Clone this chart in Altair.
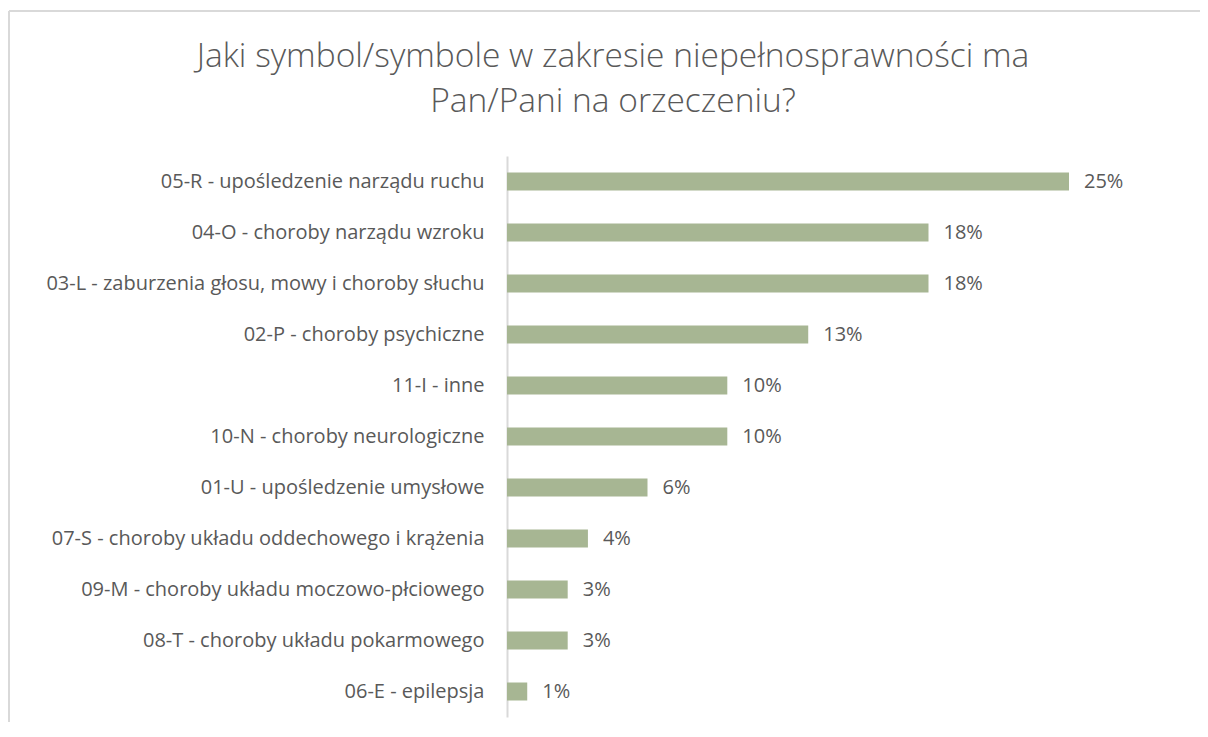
import altair as alt
import pandas as pd

categories = [
    "05-R - upośledzenie narządu ruchu",
    "04-O - choroby narządu wzroku",
    "03-L - zaburzenia głosu, mowy i choroby słuchu",
    "02-P - choroby psychiczne",
    "11-I - inne",
    "10-N - choroby neurologiczne",
    "01-U - upośledzenie umysłowe",
    "07-S - choroby układu oddechowego i krążenia",
    "09-M - choroby układu moczowo-płciowego",
    "08-T - choroby układu pokarmowego",
    "06-E - epilepsja",
]
values = [25.0, 18.75, 18.75, 13.4, 9.8, 9.8, 6.25, 3.6, 2.7, 2.7, 0.9]
labels = ["25%", "18%", "18%", "13%", "10%", "10%", "6%", "4%", "3%", "3%", "1%"]

title_line1 = "Jaki symbol/symbole w zakresie niepełnosprawności ma"
title_line2 = "Pan/Pani na orzeczeniu?"

df = pd.DataFrame({"cat": categories, "val": values, "lab": labels})
one = pd.DataFrame({"a": [0]})

FONT = "Open Sans"
TXT = "#595959"

y_enc = alt.Y(
    "cat:N",
    sort=categories,
    scale=alt.Scale(paddingInner=0.647, paddingOuter=0.3235),
    axis=alt.Axis(
        title=None,
        ticks=False,
        grid=False,
        domainColor="#d9d9d9",
        domainWidth=2,
        labelFont=FONT,
        labelFontSize=20,
        labelColor=TXT,
        labelPadding=23,
        labelLimit=600,
    ),
)
x_enc = alt.X("val:Q", scale=alt.Scale(domain=[0, 25], nice=False), axis=None)

bars = alt.Chart(df).mark_bar(color="#A7B693").encode(x=x_enc, y=y_enc)
text = alt.Chart(df).mark_text(
    align="left", baseline="middle", dx=15, font=FONT, fontSize=20, color=TXT
).encode(x=x_enc, y=y_enc, text="lab:N")

border_left = alt.Chart(one).mark_rule(color="#d9d9d9", strokeWidth=2).encode(
    x=alt.value(-498), y=alt.value(-145), y2=alt.value(600)
)
border_top = alt.Chart(one).mark_rule(color="#d9d9d9", strokeWidth=2).encode(
    x=alt.value(-498), x2=alt.value(700), y=alt.value(-145)
)

t1 = alt.Chart(one).mark_text(
    font=FONT, fontSize=33.5, fontWeight=300, color=TXT, align="center", baseline="alphabetic"
).encode(x=alt.value(106), y=alt.value(-89), text=alt.value(title_line1))
t2 = alt.Chart(one).mark_text(
    font=FONT, fontSize=33.5, fontWeight=300, color=TXT, align="center", baseline="alphabetic"
).encode(x=alt.value(106), y=alt.value(-44), text=alt.value(title_line2))

chart = (
    alt.layer(border_left, border_top, t1, t2, bars, text)
    .properties(
        width=562,
        height=561,
        padding={"left": 499, "top": 148, "right": 131, "bottom": 5},
        autosize=alt.AutoSizeParams(type="none"),
    )
    .configure_view(stroke="transparent", strokeWidth=0)
    .configure(background="white", style={"cell": {"stroke": "transparent", "strokeWidth": 0}})
)

chart.save("out.html", embed_options={"renderer": "svg", "actions": False})
